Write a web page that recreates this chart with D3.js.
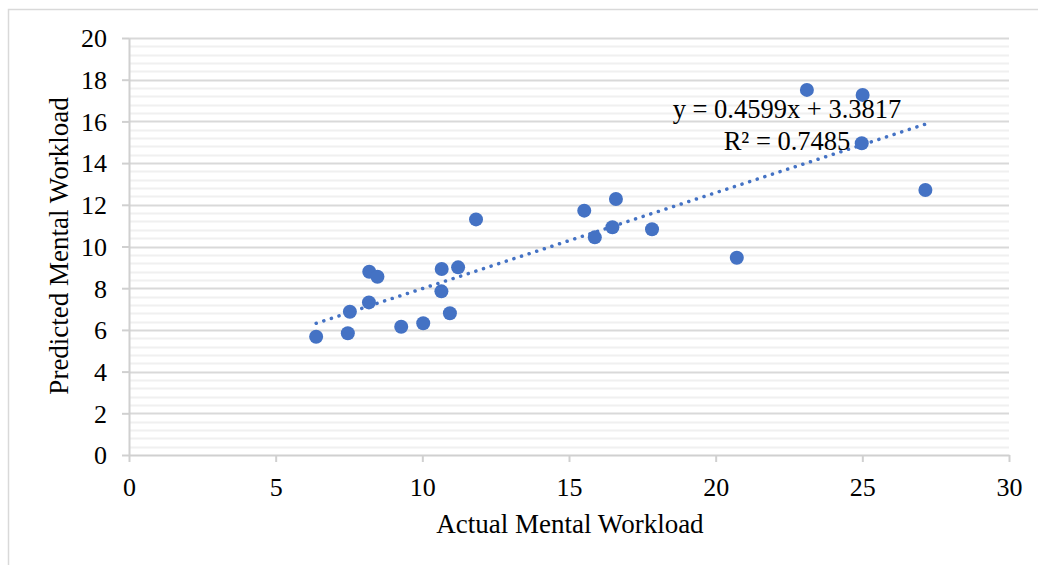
<!DOCTYPE html>
<html>
<head>
<meta charset="utf-8">
<script src="https://cdn.jsdelivr.net/npm/d3@7"></script>
<style>
  body { margin: 0; background: #fff; }
  text { font-family: "Liberation Serif", "Times New Roman", serif; }
</style>
</head>
<body>
<div id="chart-area"></div>
<script>
// actual vs predicted mental workload
var actual = [6.38, 7.46, 7.53, 8.19, 8.47, 8.18, 9.28, 10.03, 10.66, 11.22, 10.65, 10.94,
    11.83, 15.52, 16.60, 16.48, 15.88, 17.83, 20.72, 23.11, 25.01, 24.98, 27.15];
var predicted = [5.67, 5.84, 6.87, 8.79, 8.55, 7.32, 6.15, 6.32, 8.92, 9.00, 7.85, 6.80,
    11.30, 11.72, 12.28, 10.92, 10.44, 10.83, 9.46, 17.51, 17.27, 14.95, 12.71];
var xTicks = [0, 5, 10, 15, 20, 25, 30];
var yTicks = [0, 2, 4, 6, 8, 10, 12, 14, 16, 18, 20];
var slope = 0.4599;
var intercept = 3.3817;
var rSquared = 0.7485;

var data = actual.map(function(d, i) {
    return { x: d, y: predicted[i] };
});

var margin = { top: 38, right: 29, bottom: 110, left: 129 };
var width = 1038 - margin.left - margin.right;
var height = 565 - margin.top - margin.bottom;

var svg = d3.select("#chart-area")
    .append("svg")
    .attr("width", 1038)
    .attr("height", 565);

// chart border
svg.append("rect")
    .attr("x", 8.5)
    .attr("y", 9.5)
    .attr("width", 1060)
    .attr("height", 600)
    .attr("fill", "none")
    .attr("stroke", "#d9d9d9")
    .attr("stroke-width", 1.5);

var g = svg.append("g")
    .attr("transform", "translate(" + margin.left + "," + margin.top + ")");

var x = d3.scaleLinear().domain([0, 30]).range([0, width]);
var y = d3.scaleLinear().domain([0, 20]).range([height, 0]);

// minor gridlines every 0.4
var minor = d3.range(0, 20.01, 0.4).filter(function(v) {
    return Math.abs(v / 2 - Math.round(v / 2)) > 0.01;
});
g.append("g")
    .selectAll("line")
    .data(minor)
    .enter()
    .append("line")
    .attr("x1", 0)
    .attr("x2", width)
    .attr("y1", function(d) { return Math.round(y(d)) + 0.5; })
    .attr("y2", function(d) { return Math.round(y(d)) + 0.5; })
    .attr("stroke", "#f0f0f0")
    .attr("stroke-width", 2);

// major gridlines
g.append("g")
    .selectAll("line")
    .data(yTicks.slice(1))
    .enter()
    .append("line")
    .attr("x1", 0)
    .attr("x2", width)
    .attr("y1", function(d) { return Math.round(y(d)) + 0.5; })
    .attr("y2", function(d) { return Math.round(y(d)) + 0.5; })
    .attr("stroke", "#d9d9d9")
    .attr("stroke-width", 2);

var xAxisCall = d3.axisBottom(x)
    .tickValues(xTicks)
    .tickSize(7)
    .tickPadding(16)
    .tickSizeOuter(0);
var yAxisCall = d3.axisLeft(y)
    .tickValues(yTicks)
    .tickSize(7)
    .tickPadding(15)
    .tickSizeOuter(0);

var xAxisGroup = g.append("g")
    .attr("class", "x-axis")
    .attr("transform", "translate(0," + height + ")")
    .call(xAxisCall);

var yAxisGroup = g.append("g")
    .attr("class", "y-axis")
    .call(yAxisCall);

[xAxisGroup, yAxisGroup].forEach(function(ax) {
    ax.selectAll("path, line")
        .attr("stroke", "#d0d0d0")
        .attr("stroke-width", 2);
    ax.selectAll("text")
        .attr("fill", "#000")
        .attr("font-size", "26px")
        .attr("font-family", "Liberation Serif, Times New Roman, serif");
});
yAxisGroup.selectAll("text").attr("dy", "0.34em");

// axis titles
g.append("text")
    .attr("x", 441)
    .attr("y", height + 78)
    .attr("font-size", "27px")
    .attr("text-anchor", "middle")
    .text("Actual Mental Workload");

g.append("text")
    .attr("x", -(208))
    .attr("y", -61)
    .attr("font-size", "27px")
    .attr("text-anchor", "middle")
    .attr("transform", "rotate(-90)")
    .text("Predicted Mental Workload");

// trendline
var xMin = d3.min(actual);
var xMax = d3.max(actual);
g.append("line")
    .attr("x1", x(xMin))
    .attr("y1", y(slope * xMin + intercept))
    .attr("x2", x(xMax))
    .attr("y2", y(slope * xMax + intercept))
    .attr("stroke", "#4472c4")
    .attr("stroke-width", 3.5)
    .attr("stroke-linecap", "round")
    .attr("stroke-dasharray", "0.1 7.9");

// points
g.selectAll("circle")
    .data(data)
    .enter()
    .append("circle")
    .attr("cx", function(d) { return x(d.x); })
    .attr("cy", function(d) { return y(d.y); })
    .attr("r", 7)
    .attr("fill", "#4472c4");

// equation label
var eq = g.append("text")
    .attr("x", 658)
    .attr("font-size", "26.5px")
    .attr("text-anchor", "middle");
eq.append("tspan")
    .attr("x", 658)
    .attr("y", 80)
    .text("y = " + slope + "x + " + intercept);
eq.append("tspan")
    .attr("x", 658)
    .attr("y", 112)
    .text("R² = " + rSquared);
</script>
</body>
</html>
